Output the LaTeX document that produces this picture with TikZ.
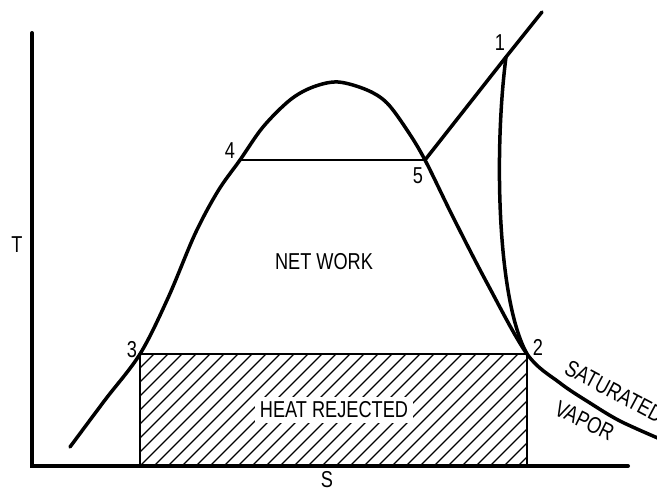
\documentclass[tikz,border=0pt]{standalone}
\usepackage{fontspec}
\setmainfont{Liberation Sans}[FakeStretch=0.79]
\begin{document}
\begin{tikzpicture}[x=1pt,y=-1pt,
  lbl/.style={font=\fontsize{23}{25}\selectfont, inner sep=1pt},
  axisline/.style={line width=4pt, line cap=round},
  curve/.style={line width=3.5pt, line cap=round, line join=round},
  thinline/.style={line width=2.2pt},
  boxline/.style={line width=2.8pt},
  hatch/.style={line width=1.4pt}]
\clip (0,0) rectangle (657,492);
\fill[white] (0,0) rectangle (657,492);
% key points
\coordinate (p1) at (506,57);
\coordinate (p2) at (527,354);
\coordinate (p3) at (140,354);
\coordinate (p4) at (240,160);
\coordinate (p5) at (425,160);
\coordinate (top) at (542,12);
\coordinate (axtop) at (32,33);
\coordinate (orig) at (32,466);
\coordinate (axright) at (628,466);
\coordinate (c1) at (140,466);
\coordinate (c2) at (527,466);
% hatching
\begin{scope}
  \clip (p3) rectangle (c2);
  \foreach \i in {-9,...,29} \draw[hatch] (140+\i*14,466) -- ++(125,-125);
\end{scope}
\node[lbl, fill=white, inner sep=5pt] (heat) at (334,410) {HEAT REJECTED};
% rectangle
\draw[boxline] (c1) -- (p3) -- (p2) -- (c2);
% axes
\draw[axisline] (axtop) -- (orig) -- (axright);
% saturation curve
\draw[curve] plot[smooth, tension=0.55] coordinates {(70,447) (105,400) (p3) (168,298) (195,234) (218,191) (p4) (263,127) (290,100) (313,87) (338,82) (367,90) (387,103) (407,130) (p5) (453,217) (487,283) (p2) (560,383) (590,403) (620,421) (660,439)};
% constant pressure line 4-5
\draw[thinline] (p4) -- (p5);
% superheat line 5-1
\draw[curve] (p5) -- (p1) -- (top);
% expansion 1-2
\draw[curve] (p1) .. controls (494,150) and (497,300) .. (p2);
% labels
\node[lbl] (l1) at (500,43) {1};
\node[lbl] (l2) at (538,347) {2};
\node[lbl] (l3) at (132,350) {3};
\node[lbl] (l4) at (230,151) {4};
\node[lbl] (l5) at (418,176) {5};
\node[lbl] (lT) at (17,245) {T};
\node[lbl, inner sep=0pt] (lS) at (327,480) {S};
\node[lbl] (net) at (324,262) {NET WORK};
\node[lbl, anchor=base west, rotate=-28, inner sep=0pt] (sat) at (563,373) {SATURATED};
\node[lbl, anchor=base west, rotate=-26, inner sep=0pt] (vap) at (553,414) {VAPOR};
\end{tikzpicture}
\end{document}
